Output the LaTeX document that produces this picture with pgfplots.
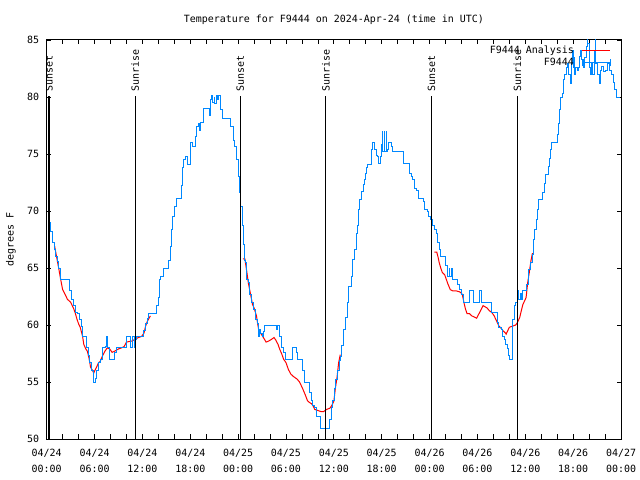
\documentclass[border=0pt]{standalone}
\usepackage{pgfplots}
\pgfplotsset{compat=1.18}
\usepackage{fontspec}
\setmainfont{DejaVu Sans Mono}
\setmonofont{DejaVu Sans Mono}
\definecolor{obsblue}{RGB}{0,136,255}
\begin{document}
\fontsize{10}{12}\selectfont
\begin{tikzpicture}
\path[use as bounding box] (0,0) rectangle (640bp,480bp);
\begin{axis}[
  at={(46.7bp,41bp)}, anchor=south west,
  scale only axis, width=574.3bp, height=399bp,
  xmin=0, xmax=72, ymin=50, ymax=85,
  xtick={0,6,...,72},
  xticklabels={{04/24\\00:00},{04/24\\06:00},{04/24\\12:00},{04/24\\18:00},
               {04/25\\00:00},{04/25\\06:00},{04/25\\12:00},{04/25\\18:00},
               {04/26\\00:00},{04/26\\06:00},{04/26\\12:00},{04/26\\18:00},
               {04/27\\00:00}},
  minor xtick={2,4,8,10,14,16,20,22,26,28,32,34,38,40,44,46,50,52,56,58,62,64,68,70},
  ytick={50,55,...,85},
  tick align=inside, tick pos=both,
  major tick length=4.5bp, minor tick length=4.5bp,
  every tick/.style={black, line width=0.8bp},
  axis line style={line width=1bp},
  /pgf/number format/assume math mode=true,
  xticklabel style={align=center, font=\fontsize{10}{16}\selectfont, inner sep=0pt, yshift=-10bp},
  yticklabel style={inner sep=0pt, xshift=-7.5bp, font=\fontsize{10}{12}\selectfont},
  every axis title/.style={at={(axis description cs:0.5,1)}, anchor=center, yshift=20bp, font=\fontsize{10}{12}\selectfont},
  title={Temperature for F9444 on 2024-Apr-24 (time in UTC)},
  ylabel={degrees F},
  every axis y label/.style={at={(axis description cs:-0.0622,0.5)}, rotate=90, anchor=center, font=\fontsize{10}{12}\selectfont},
  legend plot pos=right, legend cell align=right,
  legend style={at={(axis description cs:0.982,0.99)}, anchor=north east, draw=none, fill=none,
    inner sep=0pt, row sep=0pt, column sep=7bp, font=\fontsize{10}{12}\selectfont,
    nodes={inner sep=1bp, text height=8bp, text depth=2.5bp}},
  unbounded coords=jump,
]
% analysis (red)
\addplot[red, line width=1bp,
  legend image code/.code={\draw[red, line width=1bp] (0bp,0bp) -- (27.6bp,0bp);}]
coordinates {
(1.0,66.9) (1.3,65.75) (1.5,65.0) (1.75,64.0) (2.0,63.1) (2.3,62.7) (2.6,62.25) (3.0,62.0)
(3.2,61.7) (3.4,61.4) (3.6,61.0) (3.8,60.5) (4.0,60.1) (4.2,59.8) (4.5,59.0) (4.65,58.3)
(4.9,57.9) (5.1,57.7) (5.3,57.1) (5.5,56.3) (5.75,56.0) (5.9,55.8) (6.25,56.3) (6.5,56.7)
(6.7,56.8) (7.0,57.3) (7.3,57.7) (7.6,58.0) (7.9,57.9) (8.2,57.6) (8.5,57.7) (9.0,57.9)
(9.4,58.0) (9.7,58.1) (10.0,58.5) (10.7,58.6) (11.1,58.75) (11.5,58.9) (11.9,59.0)
(12.2,59.3) (12.4,59.9) (12.6,60.3) (13.0,60.8)
(13.1,nan)
(24.6,65.8) (24.85,65.8) (25.1,64.6) (25.3,63.6) (25.6,62.55) (25.8,61.8) (26.0,61.5)
(26.3,60.8) (26.45,60.1) (26.6,59.5) (26.9,59.2) (27.3,58.75) (27.5,58.5) (27.85,58.6)
(28.2,58.75) (28.5,58.9) (28.7,58.7) (29.0,58.3) (29.2,57.9) (29.5,57.4) (29.7,57.0)
(30.0,56.7) (30.3,56.1) (30.6,55.7) (30.9,55.5) (31.4,55.25) (31.7,55.0) (32.1,54.4)
(32.4,53.9) (32.7,53.35) (32.95,53.2) (33.2,53.1) (33.4,52.9) (33.6,52.6) (34.0,52.5)
(34.4,52.4) (34.7,52.4) (34.9,52.5) (35.1,52.6) (35.5,52.7) (35.7,52.9) (36.0,53.3)
(36.2,54.5) (36.4,55.4) (36.6,56.7) (36.8,57.4)
(37.0,nan)
(48.6,66.4) (48.9,66.4) (49.05,66.0) (49.2,65.5) (49.4,65.0) (49.6,64.6) (49.9,64.4)
(50.1,64.0) (50.3,63.6) (50.6,63.1) (50.9,63.0) (51.3,63.0) (51.8,62.9) (52.1,62.7)
(52.3,62.0) (52.5,61.4) (52.7,61.0) (53.0,61.0) (53.3,60.8) (53.6,60.7) (53.9,60.6)
(54.2,61.0) (54.5,61.4) (54.7,61.7) (54.95,61.6) (55.2,61.5) (55.5,61.25) (55.8,61.1)
(56.1,60.8) (56.4,60.35) (56.7,59.9) (57.0,59.7) (57.2,59.5) (57.5,59.3) (57.6,59.2)
(57.8,59.5) (58.0,59.8) (58.4,59.9) (58.8,60.0) (59.0,60.2) (59.3,60.65) (59.5,61.25)
(59.7,61.8) (60.1,62.4) (60.3,63.7) (60.5,64.6) (60.7,65.6) (60.9,66.3)
};
\addlegendentry{F9444 Analysis}
% observations (blue)
\addplot[obsblue, line width=0.9bp, const plot,
  legend image code/.code={\draw[obsblue, line width=0.9bp] (0bp,0bp) -- (27.6bp,0bp);
    \draw[obsblue, line width=0.9bp] (0bp,-3.5bp) -- (0bp,3.5bp);
    \draw[obsblue, line width=0.9bp] (27.6bp,-3.5bp) -- (27.6bp,3.5bp);}]
coordinates {
(0.25,69.0) (0.5,68.2) (0.7,67.2) (0.95,66.6) (1.1,66.0) (1.3,65.6) (1.5,65.0) (1.75,64.0)
(2.8,63.0) (3.15,62.25) (3.4,61.7) (3.6,61.1) (3.8,61.0) (4.15,60.5) (4.3,59.9) (4.5,59.0)
(5.0,58.0) (5.2,57.3) (5.4,56.7) (5.6,56.0) (5.85,55.0) (6.05,55.3) (6.25,56.0) (6.5,56.7)
(6.75,57.0) (7.05,58.0) (7.35,58.1) (7.5,59.0) (7.65,58.0) (7.9,57.0) (8.55,57.6) (8.8,58.0)
(10.0,59.0) (10.55,58.0) (10.75,59.0) (10.95,58.0) (11.1,58.7) (11.3,59.0) (12.15,59.5)
(12.4,60.1) (12.6,60.6) (12.8,61.0) (13.75,61.7) (14.0,62.4) (14.1,64.0) (14.3,64.3)
(14.6,65.0) (15.25,65.7) (15.5,66.9) (15.7,68.4) (15.8,69.5) (16.0,70.4) (16.25,71.1)
(16.9,72.2) (17.0,73.8) (17.2,74.5) (17.4,74.8) (17.7,74.1) (18.05,76.0) (18.3,75.7)
(18.6,76.5) (18.8,77.4) (19.0,77.7) (19.1,77.1) (19.3,77.8) (19.7,79.0) (20.35,78.4)
(20.55,79.75) (20.7,80.1) (20.8,79.5) (21.0,80.0) (21.05,79.4) (21.3,80.1) (21.35,79.8)
(21.55,80.1) (21.8,78.9) (22.05,78.1) (23.05,77.4) (23.35,76.2) (23.6,75.7) (23.8,74.5)
(24.0,73.0) (24.2,71.6) (24.35,70.4) (24.5,68.7) (24.65,67.1) (24.75,65.7) (24.95,65.5)
(25.1,64.0) (25.25,63.7) (25.45,62.7) (25.7,62.0) (25.95,61.4) (26.2,60.5) (26.4,60.1)
(26.5,59.8) (26.6,59.0) (26.7,59.6) (26.85,59.3) (27.0,59.0) (27.2,59.4) (27.3,60.0)
(28.85,59.6) (28.95,60.0) (29.2,59.0) (29.45,58.0) (29.7,57.6) (29.95,57.0) (30.85,58.0)
(31.25,57.6) (31.4,57.0) (32.05,56.0) (32.35,55.0) (33.0,54.1) (33.15,53.35) (33.35,52.9)
(33.6,52.8) (33.85,52.0) (34.3,50.9) (35.45,51.75) (35.65,52.8) (35.85,53.35) (36.05,54.4)
(36.25,55.25) (36.45,56.0) (36.7,56.85) (36.85,57.25) (37.0,58.2) (37.25,59.6) (37.45,60.65)
(37.65,62.0) (37.8,63.4) (38.15,64.3) (38.35,65.75) (38.55,66.6) (38.8,68.0) (38.95,68.7)
(39.1,70.1) (39.2,71.0) (39.5,71.7) (39.65,72.3) (39.8,72.75) (39.9,73.3) (40.05,73.8)
(40.2,74.1) (40.75,75.4) (40.9,76.0) (41.15,75.4) (41.35,74.9) (41.5,74.75) (41.6,74.2)
(41.85,74.75) (41.95,75.8) (42.1,77.0) (42.15,75.2) (42.35,77.0) (42.4,75.2) (42.6,77.0)
(42.65,75.2) (42.75,75.4) (42.85,76.0) (43.2,75.7) (43.35,75.2) (44.75,74.2) (45.5,73.3)
(45.7,73.0) (45.9,72.75) (46.1,72.0) (46.4,71.8) (46.55,71.1) (47.25,70.8) (47.4,70.1)
(47.7,70.0) (47.9,69.5) (48.1,69.25) (48.4,68.7) (48.6,68.4) (48.8,68.0) (49.0,67.2)
(49.2,66.6) (49.4,66.0) (50.0,65.2) (50.3,64.3) (50.45,65.0) (50.55,64.3) (50.7,65.0)
(50.9,64.0) (51.55,63.6) (51.8,63.1) (52.05,62.7) (52.3,62.0) (52.95,63.0) (53.5,62.0)
(54.25,63.0) (54.55,62.0) (55.75,61.1) (56.45,60.2) (56.65,59.8) (56.95,59.6) (57.15,59.0)
(57.4,58.7) (57.55,58.3) (57.75,57.9) (57.85,57.3) (58.0,57.0) (58.35,58.5) (58.45,60.5)
(58.6,61.7) (58.8,62.0) (59.0,62.8) (59.1,63.0) (59.2,62.2) (59.4,62.8) (59.5,62.2)
(59.65,63.0) (60.2,63.6) (60.45,64.9) (60.6,65.5) (60.85,66.2) (61.05,67.5) (61.15,68.4)
(61.35,69.25) (61.55,70.1) (61.7,71.0) (62.15,71.6) (62.35,72.4) (62.5,73.2) (62.85,73.9)
(63.0,74.6) (63.15,75.4) (63.3,76.0) (64.05,76.7) (64.2,77.7) (64.3,78.9) (64.4,80.0)
(64.6,80.3) (64.75,81.5) (64.9,82.0) (65.1,82.6) (65.25,82.9) (65.4,82.0) (65.6,81.2)
(65.8,82.9) (65.9,84.1) (66.0,82.6) (66.1,83.5) (66.2,82.0) (66.35,82.6) (66.5,82.3)
(66.65,82.6) (66.85,83.6) (66.95,84.1) (67.05,83.3) (67.25,82.6) (67.45,83.5) (67.65,84.4)
(67.75,85.5) (67.85,84.7) (68.0,82.6) (68.15,82.0) (68.3,82.9) (68.45,82.0) (68.65,84.1)
(68.75,85.5) (68.85,82.9) (69.1,82.0) (69.25,81.2) (69.4,82.3) (69.6,82.7) (69.8,82.2)
(70.0,82.3) (70.35,82.9) (70.6,82.3) (70.8,82.0) (71.0,81.3) (71.2,80.7) (71.4,80.0) (71.9,80.0)
};
\addlegendentry{F9444}
% sunset / sunrise markers
\addplot[black, line width=1.2bp, forget plot] coordinates {(0.3,50) (0.3,80.05)};
\addplot[black, line width=1.2bp, forget plot] coordinates {(11.1,50) (11.1,80.05)};
\addplot[black, line width=1.2bp, forget plot] coordinates {(24.25,50) (24.25,80.05)};
\addplot[black, line width=1.2bp, forget plot] coordinates {(35.0,50) (35.0,80.05)};
\addplot[black, line width=1.2bp, forget plot] coordinates {(48.25,50) (48.25,80.05)};
\addplot[black, line width=1.2bp, forget plot] coordinates {(59.0,50) (59.0,80.05)};
\node[rotate=90, anchor=west, inner sep=0pt] at (axis cs:0.3,80.45) {Sunset};
\node[rotate=90, anchor=west, inner sep=0pt] at (axis cs:11.1,80.45) {Sunrise};
\node[rotate=90, anchor=west, inner sep=0pt] at (axis cs:24.25,80.45) {Sunset};
\node[rotate=90, anchor=west, inner sep=0pt] at (axis cs:35.0,80.45) {Sunrise};
\node[rotate=90, anchor=west, inner sep=0pt] at (axis cs:48.25,80.45) {Sunset};
\node[rotate=90, anchor=west, inner sep=0pt] at (axis cs:59.0,80.45) {Sunrise};
\end{axis}
\end{tikzpicture}
\end{document}
